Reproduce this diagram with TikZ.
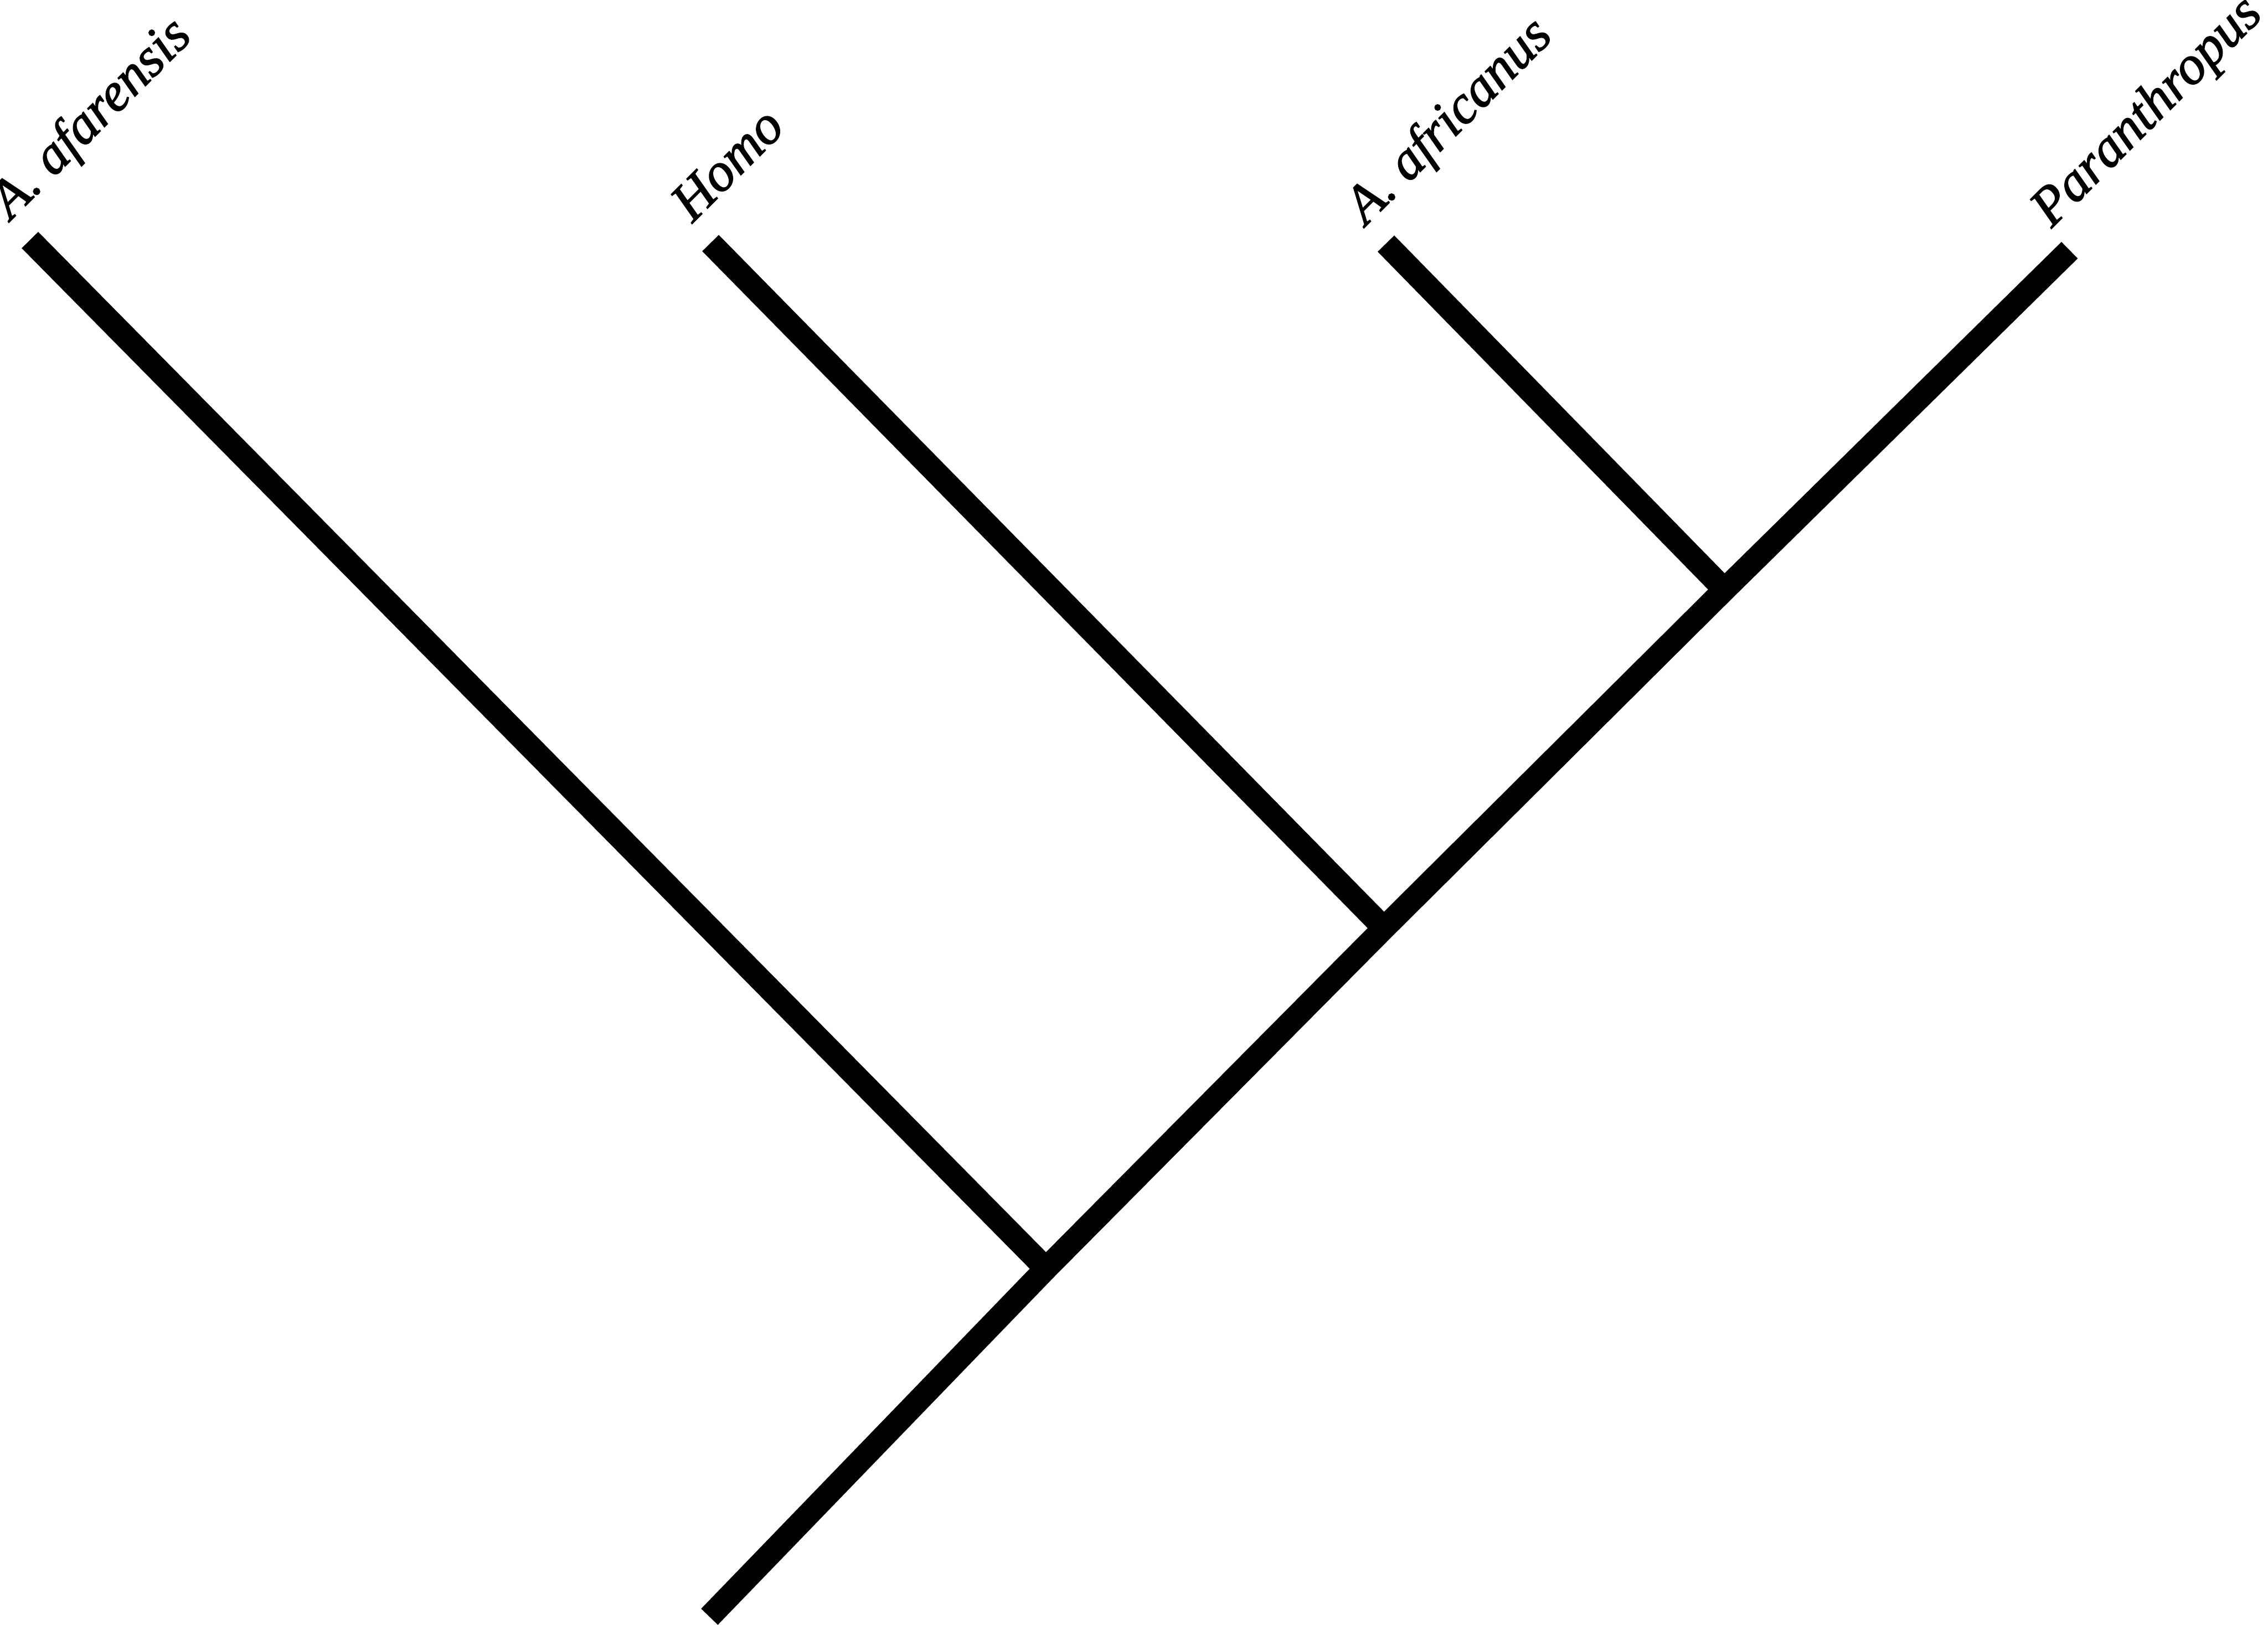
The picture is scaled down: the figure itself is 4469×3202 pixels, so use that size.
\documentclass[tikz,border=0pt]{standalone}
\usepackage{fontspec}
\setmainfont{Liberation Serif}
\newfontfamily\taxfont[FakeBold=1.6]{Liberation Serif}
\usepackage{tikz}
\usetikzlibrary{positioning}

\begin{document}
\begin{tikzpicture}[x=0.01cm, y=-0.01cm,
    branch/.style={line width=13pt, line cap=butt, line join=miter, black},
    taxon/.style={rotate=45, anchor=base west, inner sep=0pt,
        font=\fontsize{30.5}{33}\taxfont\itshape}]
    \useasboundingbox (0,0) rectangle (4469,3202);

    % root and branch points
    \coordinate (root) at (1398,3186);
    \coordinate (n1) at (2061,2500);
    \coordinate (n2) at (2727,1829);
    \coordinate (n3) at (3398,1162);

    % tips
    \coordinate (tAfa) at (59,473);
    \coordinate (tHomo) at (1400,479);
    \coordinate (tAfr) at (2731,480);
    \coordinate (tPara) at (4078,493);

    % tree
    \draw[branch] (root) -- (n1) -- (n2) -- (n3) -- (tPara);
    \draw[branch] (n1) -- (tAfa);
    \draw[branch] (n2) -- (tHomo);
    \draw[branch] (n3) -- (tAfr);

    % labels
    \node[taxon] (lAfa) at ([shift={(-38,-38)}]tAfa) {A. afarensis};
    \node[taxon] (lHomo) at ([shift={(-36,-38)}]tHomo) {Homo};
    \node[taxon] (lAfr) at ([shift={(-40,-34)}]tAfr) {A. africanus};
    \node[taxon] (lPara) at ([shift={(-36,-42)}]tPara) {Paranthropus};

\end{tikzpicture}
\end{document}
